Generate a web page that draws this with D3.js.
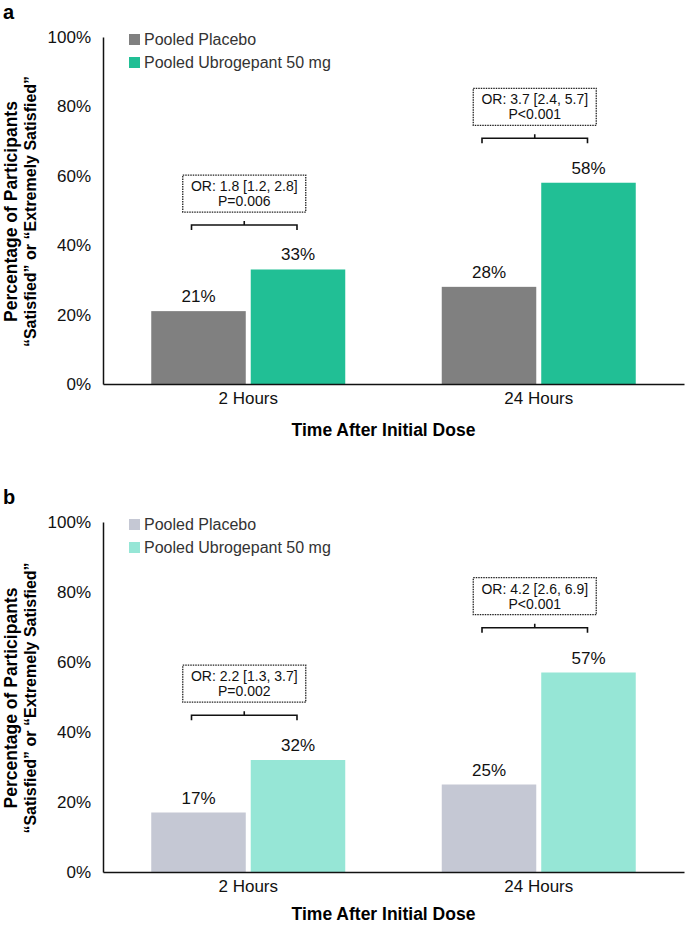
<!DOCTYPE html>
<html>
<head>
<meta charset="utf-8">
<script src="https://cdn.jsdelivr.net/npm/d3@7"></script>
<style>
  body { margin: 0; background: #fff; }
  svg { font-family: "Liberation Sans", Arial, sans-serif; display: block; }
</style>
</head>
<body>
<svg width="685" height="925"></svg>
<script>
(function(d3) {
    "use strict";

    var timepoints = ["2 Hours", "24 Hours"],
        seriesNames = ["Pooled Placebo", "Pooled Ubrogepant 50 mg"],
        yTicks = [0, 20, 40, 60, 80, 100],

        // panel a: satisfied or extremely satisfied
        placeboA = [21, 28],
        ubroA = [33, 58],
        orA = ["OR: 1.8 [1.2, 2.8]", "OR: 3.7 [2.4, 5.7]"],
        pA = ["P=0.006", "P<0.001"],

        // panel b
        placeboB = [17, 25],
        ubroB = [32, 57],
        orB = ["OR: 2.2 [1.3, 3.7]", "OR: 4.2 [2.6, 6.9]"],
        pB = ["P=0.002", "P<0.001"];

    var svg = d3.select("svg");

    var panels = [
        { letter: "a", top: 37, bottom: 384, placebo: placeboA, ubro: ubroA, or: orA, p: pA,
          colors: ["#808080", "#21bf95"] },
        { letter: "b", top: 522, bottom: 872, placebo: placeboB, ubro: ubroB, or: orB, p: pB,
          colors: ["#c5c8d4", "#96e6d6"] }
    ];

    var left = 103, right = 684;

    panels.forEach(function(pn) {
        var g = svg.append("g");

        var x = d3.scaleBand().domain(timepoints).range([left, right]).paddingInner(0).paddingOuter(0);
        var sub = d3.scaleBand().domain([0, 1]).range([-97, 97]).paddingInner(0.05);
        var y = d3.scaleLinear().domain([0, 100]).range([pn.bottom, pn.top]);

        // panel letter
        g.append("text").attr("x", 3).attr("y", pn.top - 18)
            .attr("font-size", 20).attr("font-weight", "bold").text(pn.letter);

        // bars
        var rows = timepoints.map(function(t, i) {
            return { t: t, vals: [pn.placebo[i], pn.ubro[i]], or: pn.or[i], p: pn.p[i] };
        });

        rows.forEach(function(r) {
            var cx = x(r.t) + x.bandwidth() / 2;
            r.vals.forEach(function(v, k) {
                var bx = cx + sub(k);
                g.append("rect")
                    .attr("x", bx).attr("y", y(v))
                    .attr("width", sub.bandwidth()).attr("height", y(0) - y(v))
                    .attr("fill", pn.colors[k]);
                g.append("text")
                    .attr("x", bx + sub.bandwidth() / 2).attr("y", y(v) - 9)
                    .attr("text-anchor", "middle").attr("font-size", 17).attr("fill", "#111")
                    .text(v + "%");
            });

            // bracket + OR box
            var x1 = cx + sub(0) + sub.bandwidth() / 2 - 7,
                x2 = cx + sub(1) + sub.bandwidth() / 2 - 1,
                top = d3.max(r.vals),
                by = y(top + 12.8),
                mx = (x1 + x2) / 2;
            g.append("path")
                .attr("d", "M" + x1 + "," + (by + 5) + "V" + by + "H" + x2 + "V" + (by + 5) +
                    "M" + mx + "," + by + "V" + (by - 4))
                .attr("fill", "none").attr("stroke", "#111").attr("stroke-width", 1.6);
            var bw = 123, bh = 37, boxY = by - 13 - bh;
            g.append("rect")
                .attr("x", mx - bw / 2).attr("y", boxY).attr("width", bw).attr("height", bh)
                .attr("fill", "none").attr("stroke", "#222").attr("stroke-width", 1.3)
                .attr("stroke-dasharray", "1.5,1");
            g.append("text").attr("x", mx).attr("y", boxY + 16)
                .attr("text-anchor", "middle").attr("font-size", 14).attr("fill", "#111").text(r.or);
            g.append("text").attr("x", mx).attr("y", boxY + 31)
                .attr("text-anchor", "middle").attr("font-size", 14).attr("fill", "#111").text(r.p);
        });

        // y axis
        var yAxis = d3.axisLeft(y).tickValues(yTicks).tickSize(0).tickPadding(12)
            .tickFormat(function(d) { return d + "%"; });
        var ya = g.append("g").attr("transform", "translate(" + left + ",0)").call(yAxis);
        ya.select(".domain").attr("stroke", "#111").attr("stroke-width", 1.5);
        ya.selectAll("text").attr("font-size", 17).attr("fill", "#111").attr("font-family", null);

        // x axis
        var xAxis = d3.axisBottom(x).tickSize(0).tickPadding(8);
        var xa = g.append("g").attr("transform", "translate(0," + pn.bottom + ")").call(xAxis);
        xa.select(".domain").attr("stroke", "#111").attr("stroke-width", 1.5);
        xa.selectAll("text").attr("font-size", 17).attr("fill", "#111").attr("font-family", null);

        // axis titles
        g.append("text").attr("x", (left + right) / 2 - 10).attr("y", Math.min(pn.bottom + 52, 920))
            .attr("text-anchor", "middle").attr("font-size", 17.5).attr("font-weight", "bold")
            .text("Time After Initial Dose");

        var cy = (pn.top + pn.bottom) / 2 + 1;
        var yt = g.append("text")
            .attr("transform", "translate(17," + cy + ") rotate(-90)")
            .attr("text-anchor", "middle").attr("font-weight", "bold");
        yt.append("tspan").attr("x", 0).attr("y", 0).attr("font-size", 17.5)
            .text("Percentage of Participants");
        yt.append("tspan").attr("x", 0).attr("y", 19).attr("font-size", 16)
            .text("\u201cSatisfied\u201d or \u201cExtremely Satisfied\u201d");

        // legend
        var lg = g.append("g").attr("transform", "translate(129," + (pn.top - 3) + ")");
        seriesNames.forEach(function(s, k) {
            lg.append("rect").attr("x", 0).attr("y", k * 23).attr("width", 11).attr("height", 11)
                .attr("fill", pn.colors[k]);
            lg.append("text").attr("x", 15).attr("y", k * 23 + 11)
                .attr("font-size", 16).attr("fill", "#333").text(s);
        });
    });

}(d3));
</script>
</body>
</html>
